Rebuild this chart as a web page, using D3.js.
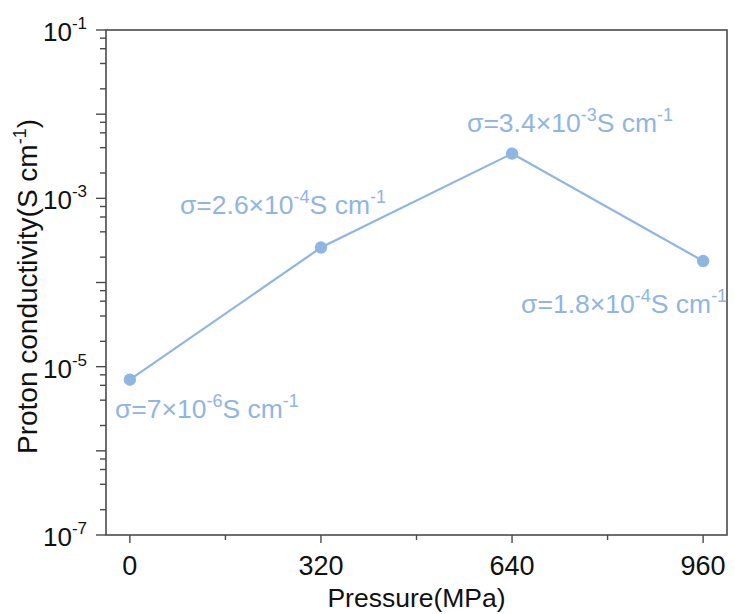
<!DOCTYPE html>
<html>
<head>
<meta charset="utf-8">
<script src="https://cdn.jsdelivr.net/npm/d3@7/dist/d3.min.js"></script>
<style>
  html, body { margin: 0; padding: 0; background: #fff; }
  svg { display: block; font-family: "Liberation Sans", Arial, Helvetica, sans-serif; }
</style>
</head>
<body>
<svg id="chart" width="735" height="614"></svg>
<script>
// Pressure (MPa) and measured proton conductivity (S cm^-1)
const pressures = [0, 320, 640, 960];
const conductivity = [7e-6, 2.6e-4, 3.4e-3, 1.8e-4];

// Axis ticks
const xTickValues = [0, 320, 640, 960];
const xMinorTicks = [160, 480, 800];
const yLabelExponents = [-1, -3, -5, -7];

const xTitle = "Pressure(MPa)";
const yTitle = "Proton conductivity(S cm";

const W = 735, H = 614;
const margin = { left: 106, right: 8, top: 30, bottom: 79 };
const plotW = W - margin.left - margin.right;
const plotH = H - margin.top - margin.bottom;

const lineColor = "#8fb5e3";
const axisColor = "#4a4a4a";
const textColor = "#111";

const svg = d3.select("#chart");

const x = d3.scaleLinear().domain([-40, 1000]).range([margin.left, margin.left + plotW]);
const y = d3.scaleLog().domain([1e-7, 1e-1]).range([margin.top + plotH, margin.top]);

// Frame
svg.append("rect")
  .attr("x", margin.left).attr("y", margin.top)
  .attr("width", plotW).attr("height", plotH)
  .attr("fill", "none").attr("stroke", axisColor).attr("stroke-width", 1.6);

// X axis ticks
const xAxisG = svg.append("g").attr("transform", `translate(0,${margin.top + plotH})`);
xAxisG.selectAll("line.major").data(xTickValues).join("line")
  .attr("x1", d => x(d)).attr("x2", d => x(d))
  .attr("y1", 0).attr("y2", 8)
  .attr("stroke", axisColor).attr("stroke-width", 1.4);
xAxisG.selectAll("line.minor").data(xMinorTicks).join("line")
  .attr("x1", d => x(d)).attr("x2", d => x(d))
  .attr("y1", 0).attr("y2", 5)
  .attr("stroke", axisColor).attr("stroke-width", 1.4);
xAxisG.selectAll("text").data(xTickValues).join("text")
  .attr("x", d => x(d)).attr("y", 40)
  .attr("text-anchor", "middle")
  .attr("font-size", 27)
  .attr("fill", textColor)
  .text(d => d);

// Y axis ticks: decades major, 2/4/6/8 minor
const yAxisG = svg.append("g").attr("transform", `translate(${margin.left},0)`);
const yMajor = d3.range(-7, 0).map(e => Math.pow(10, e));
const yMinor = [];
for (let e = -7; e < -1; e++) {
  [2, 4, 6, 8].forEach(m => yMinor.push(m * Math.pow(10, e)));
}
yAxisG.selectAll("line.major").data(yMajor).join("line")
  .attr("x1", -10).attr("x2", 0)
  .attr("y1", d => y(d)).attr("y2", d => y(d))
  .attr("stroke", axisColor).attr("stroke-width", 1.4);
yAxisG.selectAll("line.minor").data(yMinor).join("line")
  .attr("x1", -6).attr("x2", 0)
  .attr("y1", d => y(d)).attr("y2", d => y(d))
  .attr("stroke", axisColor).attr("stroke-width", 1.4);

const yLabels = yAxisG.selectAll("text").data(yLabelExponents).join("text")
  .attr("x", -19).attr("y", d => y(Math.pow(10, d)) + 11)
  .attr("text-anchor", "end")
  .attr("font-size", 26)
  .attr("fill", textColor);
yLabels.append("tspan").text("10");
yLabels.append("tspan").attr("dy", -12).attr("font-size", 17).text(d => d);

// Axis titles
svg.append("text")
  .attr("x", x(480)).attr("y", 607)
  .attr("text-anchor", "middle")
  .attr("font-size", 26.5)
  .attr("fill", textColor)
  .text(xTitle);

const yt = svg.append("text")
  .attr("transform", `translate(37,${margin.top + plotH / 2 + 4}) rotate(-90)`)
  .attr("text-anchor", "middle")
  .attr("font-size", 28)
  .attr("fill", textColor);
yt.append("tspan").text(yTitle);
yt.append("tspan").attr("dy", -11).attr("font-size", 18).text("-1");
yt.append("tspan").attr("dy", 11).text(")");

// Data series
const pts = pressures.map((p, i) => ({ p, v: conductivity[i] }));
svg.append("path")
  .datum(pts)
  .attr("fill", "none")
  .attr("stroke", lineColor)
  .attr("stroke-width", 2.2)
  .attr("d", d3.line().x(d => x(d.p)).y(d => y(d.v)));
svg.selectAll("circle.pt").data(pts).join("circle")
  .attr("cx", d => x(d.p)).attr("cy", d => y(d.v))
  .attr("r", 6.2)
  .attr("fill", lineColor);

// Value annotations, e.g. σ=2.6×10⁻⁴S cm⁻¹
const labelOffsets = [[-15, 38], [-141, -34], [-45, -22], [-182, 52]];
function splitSci(v) {
  const e = Math.floor(Math.log10(v) + 1e-9);
  const m = parseFloat((v / Math.pow(10, e)).toPrecision(2));
  return { m, e };
}
const ann = svg.selectAll("text.ann").data(pts).join("text")
  .attr("class", "ann")
  .attr("x", (d, i) => x(d.p) + labelOffsets[i][0])
  .attr("y", (d, i) => y(d.v) + labelOffsets[i][1])
  .attr("font-size", 26.5)
  .attr("fill", lineColor);
ann.append("tspan").text(d => `σ=${splitSci(d.v).m}×10`);
ann.append("tspan").attr("dy", -11).attr("font-size", 18).text(d => splitSci(d.v).e);
ann.append("tspan").attr("dy", 11).text("S cm");
ann.append("tspan").attr("dy", -11).attr("font-size", 18).text("-1");
</script>
</body>
</html>
